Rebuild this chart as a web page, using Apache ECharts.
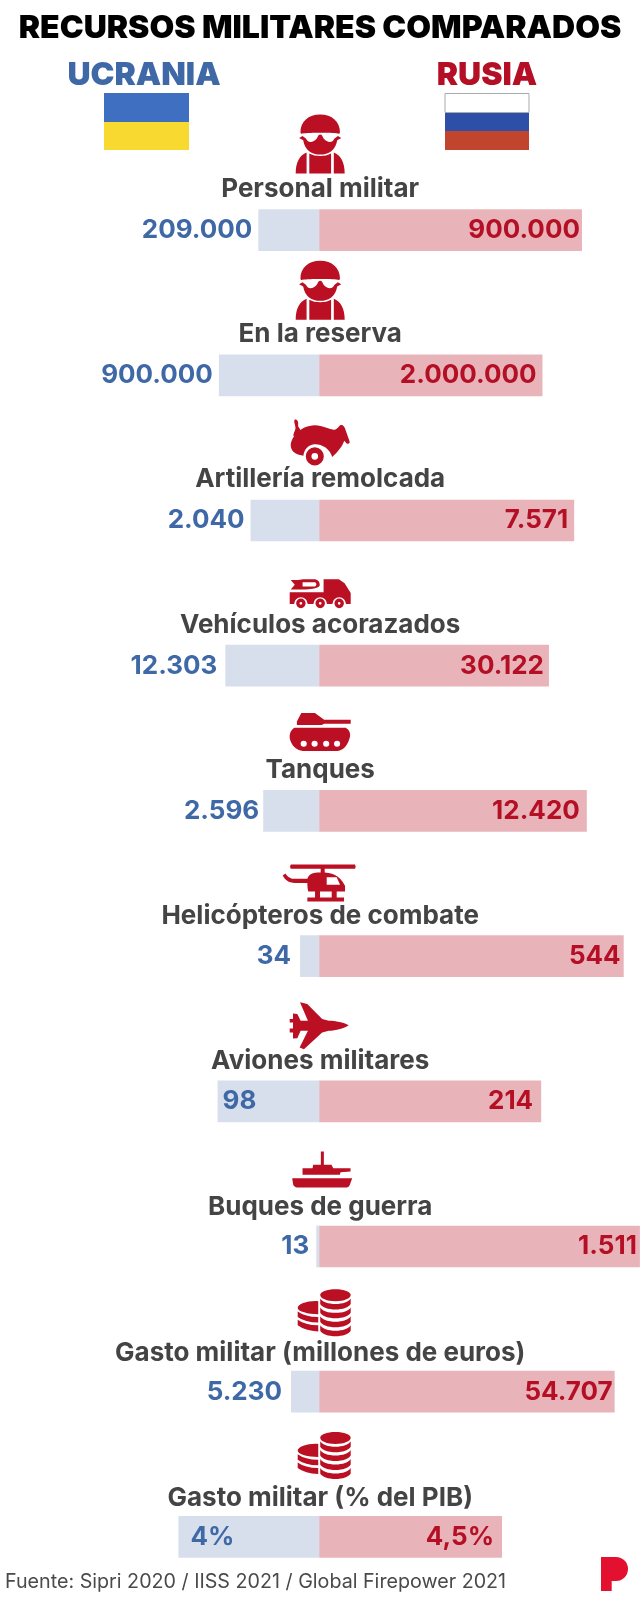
<!DOCTYPE html>
<html>
<head>
<meta charset="utf-8">
<style>
html, body { margin: 0; padding: 0; background: #fff; }
#main { width: 640px; height: 1600px; }
</style>
<script src="https://cdn.jsdelivr.net/npm/echarts@6/dist/echarts.min.js"></script>
</head>
<body>
<div id="main"></div>
<script>
var categories = ['Personal militar', 'En la reserva', 'Artillería remolcada', 'Vehículos acorazados', 'Tanques',
    'Helicópteros de combate', 'Aviones militares', 'Buques de guerra', 'Gasto militar (millones de euros)', 'Gasto militar (% del PIB)'];
var ukraineLabels = ['209.000', '900.000', '2.040', '12.303', '2.596', '34', '98', '13', '5.230', '4%'];
var russiaLabels = ['900.000', '2.000.000', '7.571', '30.122', '12.420', '544', '214', '1.511', '54.707', '4,5%'];
// bar widths as share of each row
var ukraineShare = [18.8, 31, 21.2, 29, 17.3, 5.9, 31.4, 0.9, 8.7, 43.5];
var russiaShare = [81.2, 69, 78.8, 71, 82.7, 94.1, 68.6, 99.1, 91.3, 56.5];

var BLUE = '#3f69a6', RED = '#b40f24', ICON = '#bb0f23';

function circle(x, y, r, hole) {
    var s = hole ? 0 : 1;
    return 'M' + (x + r) + ' ' + y + 'A' + r + ' ' + r + ' 0 1 ' + s + ' ' + (x - r) + ' ' + y +
        'A' + r + ' ' + r + ' 0 1 ' + s + ' ' + (x + r) + ' ' + y + 'Z';
}

var soldier = 'M62 80C62 50 85 28 120 28C155 28 178 50 178 80C178 84 176 86 172 85C150 82 90 82 68 85C64 86 62 84 62 80Z' +
    'M78 100C85 116 100 112 110 100L115 90Q120 86 125 90L130 100C140 112 155 116 162 100L172 92L182 98L170 105C165 135 145 148 120 148C95 148 75 135 70 105L58 98L68 92Z' +
    'M48 205C48 170 60 150 80 142L80 205Z' +
    'M88 145C105 155 135 155 152 145L152 205L88 205Z' +
    'M160 142C180 150 192 170 192 205L160 205Z';

var cannon = 'M28 90C30 62 58 32 100 30C125 30 145 44 160 43C168 41 172 32 176 30C184 26 190 36 192 44L204 78C206 84 198 88 192 80L188 76C182 92 172 106 152 124C146 98 118 84 98 86C80 88 68 102 66 120C48 118 30 112 28 90Z' +
    'M40 13C48 12 52 20 50 30C50 38 60 42 56 48C50 52 42 55 40 60L36 62C36 50 44 45 42 36C42 28 36 20 40 13Z' +
    circle(100, 122, 27) + circle(100, 122, 10, true);

var truck = 'M213 542L235 542L250 540L285 540C298 542 300 555 298 560C290 568 270 570 250 570L235 570L213 570L225 556Z' +
    'M248 549L248 561L285 561C290 558 290 552 285 549Z' +
    'M210 578L310 578L310 540L355 540L372 552L390 580L390 612L376 612A20 20 0 0 0 336 612L320 612A20 20 0 0 0 280 612L263 612A20 20 0 0 0 223 612L210 612Z' +
    circle(243, 610, 14) + circle(243, 610, 4, true) +
    circle(300, 610, 14) + circle(300, 610, 4, true) +
    circle(356, 610, 14) + circle(356, 610, 4, true);

var tank = 'M245 940L285 940L312 960L390 960L390 972L312 972L305 976L232 976L232 965Z' +
    'M225 984L375 984C388 990 392 1005 385 1020C378 1040 365 1052 350 1052L250 1052C230 1052 215 1035 211 1015C210 1000 215 990 225 984Z' +
    circle(252, 1031, 9, true) + circle(284, 1031, 9, true) + circle(318, 1031, 9, true) + circle(350, 1031, 9, true);

var helicopter = 'M212 46L405 46L407 52L405 58L212 58L210 52Z' +
    'M302 58L314 58L314 70L302 70Z' +
    'M285 70C330 68 355 72 375 108L375 125L265 125C262 118 262 105 262 100L225 100C205 100 195 90 188 78L196 72C205 85 215 88 225 88L262 88C265 78 272 72 285 70Z' +
    'M320 83L320 105L360 105L350 83Z' +
    'M285 125L300 125L300 143L285 143Z' +
    'M335 125L350 125L350 143L335 143Z' +
    'M262 143L372 143L372 155L262 155Z';

var plane = 'M385 523C370 515 345 510 325 510L305 505L260 460L238 455L262 510L240 510L230 490L217 488L217 505L207 505L207 515L217 515L217 533L207 533L207 545L217 545L217 563L230 562L240 540L262 540L237 590L250 595L305 545L325 540C345 538 375 532 385 523Z';

var ship = 'M303 900L312 900L312 940L335 940L340 950L392 950L392 960L362 962L360 970L248 970L248 950L278 950L280 940L303 940Z' +
    'M217 980L397 980L390 1000C388 1005 385 1008 380 1008L232 1008C226 1008 222 1004 220 1000Z';

var coins = 'M106 42C106 32 126 25 152 25C178 25 198 32 198 42C198 52 178 60 152 60C126 60 106 52 106 42Z';
[0, 26, 52, 78].forEach(function (d) {
    coins += 'M106 ' + (52 + d) + 'C112 ' + (62 + d) + ' 130 ' + (68 + d) + ' 152 ' + (68 + d) + 'C174 ' + (68 + d) + ' 192 ' + (62 + d) + ' 198 ' + (52 + d) +
        'L198 ' + (68 + d) + 'C192 ' + (78 + d) + ' 174 ' + (84 + d) + ' 152 ' + (84 + d) + 'C130 ' + (84 + d) + ' 112 ' + (78 + d) + ' 106 ' + (68 + d) + 'Z';
});
coins += 'M100 60C70 58 38 68 38 80C38 90 70 98 100 98Z' +
    'M38 90Q60 106 100 106L100 122Q60 122 38 106Z' +
    'M38 114Q60 130 100 130L100 148Q60 146 38 130Z';

var iconPaths = [soldier, soldier, cannon, truck, tank, helicopter, plane, ship, coins, coins];
var iconSizes = [[49, 59], [49, 59], [59, 46], [61, 29], [61, 38], [73, 37], [59, 47], [60, 36], [53, 47], [53, 47]];
var iconOffsets = [[1, -86], [1, -85], [1, -78], [1, -72], [1, -79], [0, -73], [0, -75.5], [3, -77], [5, -79], [5, -81.5]];

var ukraineGap = [6, 6, 6, 8, 4, 9, 5, 7, 9, 12];
var russiaGap = [2, 6, 6, 5, 7, 3, 8, 3, 2, 8];
var titleOffsets = [-41, -41, -41, -41, -41, -40, -40, -39, -39, -39];

var chart = echarts.init(document.getElementById('main'));
chart.setOption({
    animation: false,
    backgroundColor: '#fff',
    textStyle: { fontFamily: 'Inter' },
    title: [
        { text: 'RECURSOS MILITARES COMPARADOS', left: 320, top: 12, padding: 0, textAlign: 'center',
            textStyle: { fontSize: 32, fontWeight: 900, color: '#000', fontFamily: 'Inter' } },
        { text: 'UCRANIA', left: 144, top: 59, padding: 0, textAlign: 'center',
            textStyle: { fontSize: 32, fontWeight: 900, color: BLUE, fontFamily: 'Inter' } },
        { text: 'RUSIA', left: 487, top: 59, padding: 0, textAlign: 'center',
            textStyle: { fontSize: 32, fontWeight: 900, color: RED, fontFamily: 'Inter' } },
        { text: 'Fuente: Sipri 2020 / IISS 2021 / Global Firepower 2021', left: 5, top: 1572, padding: 0,
            textStyle: { fontSize: 19.7, fontWeight: 400, color: '#4a4a4a', fontFamily: 'Inter' } }
    ],
    grid: { left: -4.4, width: 647.2, top: 157.5, height: 1452, outerBoundsMode: 'none' },
    xAxis: { type: 'value', min: -100, max: 100, show: false },
    yAxis: { type: 'category', data: categories, inverse: true, show: false },
    series: [
        {
            name: 'Ucrania', type: 'bar', stack: 'total', barWidth: 41.7,
            itemStyle: { color: '#d6dfeb' },
            data: ukraineShare.map(function (v, i) {
                var inside = i === 6 || i === 9;
                return {
                    value: -v,
                    label: {
                        show: true, position: inside ? 'insideLeft' : 'left', distance: ukraineGap[i],
                        formatter: ukraineLabels[i], fontSize: 26, fontWeight: 700, color: BLUE, fontFamily: 'Inter'
                    }
                };
            })
        },
        {
            name: 'Rusia', type: 'bar', stack: 'total', barWidth: 41.7,
            itemStyle: { color: '#e8b4ba' },
            data: russiaShare.map(function (v, i) {
                return {
                    value: v,
                    label: {
                        show: true, position: 'insideRight', distance: russiaGap[i],
                        formatter: russiaLabels[i], fontSize: 26, fontWeight: 700, color: RED, fontFamily: 'Inter'
                    }
                };
            })
        },
        {
            name: 'Iconos', type: 'scatter', silent: true,
            itemStyle: { color: ICON, opacity: 1 },
            data: categories.map(function (c, i) {
                return {
                    value: [0, c],
                    symbol: 'path://' + iconPaths[i],
                    symbolSize: iconSizes[i],
                    symbolOffset: iconOffsets[i]
                };
            })
        },
        {
            name: 'Rubros', type: 'scatter', silent: true, symbolSize: 1,
            itemStyle: { color: 'transparent', opacity: 1 },
            data: categories.map(function (c, i) {
                return {
                    value: [0, c],
                    label: {
                        show: true, position: 'inside', offset: [1, titleOffsets[i]],
                        formatter: c, fontSize: 26, fontWeight: 700, color: '#444', fontFamily: 'Inter'
                    }
                };
            })
        }
    ],
    graphic: [
        { type: 'rect', shape: { x: 104, y: 93, width: 85, height: 29 }, style: { fill: '#3f6fc0' } },
        { type: 'rect', shape: { x: 104, y: 122, width: 85, height: 28 }, style: { fill: '#f7d92f' } },
        { type: 'rect', shape: { x: 445, y: 93.5, width: 84, height: 19 }, style: { fill: '#fff', stroke: '#aaa', lineWidth: 1 } },
        { type: 'rect', shape: { x: 445, y: 113, width: 84, height: 18 }, style: { fill: '#2e4fa8' } },
        { type: 'rect', shape: { x: 445, y: 131, width: 84, height: 19 }, style: { fill: '#c0452c' } },
        // logo P
        { type: 'rect', shape: { x: 601, y: 1557, width: 10.7, height: 34 }, style: { fill: '#e3102f' } },
        { type: 'rect', shape: { x: 601, y: 1557, width: 15, height: 24 }, style: { fill: '#e3102f' } },
        { type: 'circle', shape: { cx: 616, cy: 1569, r: 12 }, style: { fill: '#e3102f' } }
    ]
});
</script>
</body>
</html>
